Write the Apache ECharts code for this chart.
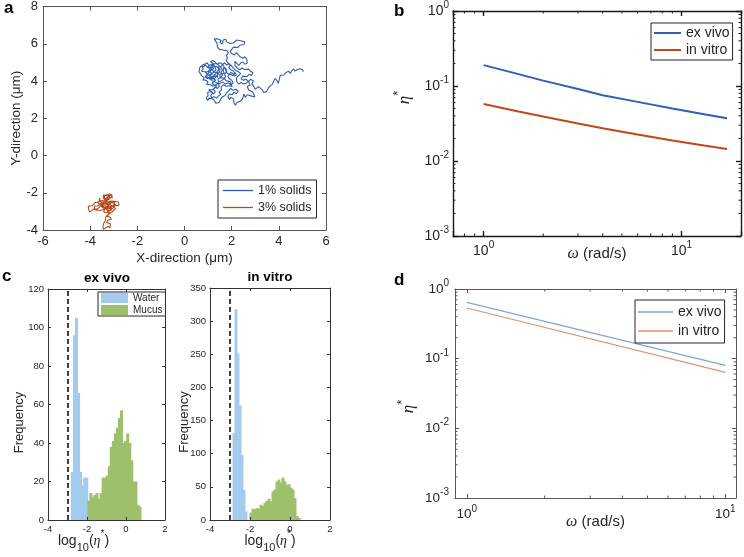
<!DOCTYPE html>
<html><head><meta charset="utf-8">
<script src="https://cdn.jsdelivr.net/npm/echarts@6/dist/echarts.min.js"></script>
<style>html,body{margin:0;padding:0;background:#fff}#c{width:744px;height:557px}</style>
</head><body><div id="c"></div><script>
// ---------- DATA ----------
// Panel a: particle trajectories (µm)
const traj1pct = [[5.04,4.5],[5.0,4.62],[4.97,4.71],[4.9,4.66],[4.85,4.74],[4.78,4.62],[4.69,4.53],[4.62,4.66],[4.55,4.58],[4.48,4.41],[4.42,4.52],[4.34,4.59],[4.3,4.45],[4.24,4.5],[4.2,4.32],[4.12,4.22],[4.06,4.3],[3.98,3.87],[3.93,4.0],[3.84,4.14],[3.78,3.98],[3.72,3.82],[3.66,3.9],[3.6,3.7],[3.54,3.58],[3.48,3.43],[3.42,3.5],[3.36,3.38],[3.3,3.52],[3.22,3.62],[3.14,3.7],[3.06,3.62],[3.0,3.56],
[2.94,3.7],[2.86,3.84],[2.92,4.0],[2.8,4.1],[2.72,3.96],[2.78,3.78],[2.66,3.7],[2.72,3.52],[2.86,3.44],[2.94,3.3],[2.98,3.14],[2.9,3.06],[2.82,3.2],[2.74,3.1],[2.66,3.26],[2.58,3.12],[2.52,3.3],[2.44,3.2],[2.46,3.04],[2.38,2.92],[2.3,3.0],[2.22,2.84],[2.16,2.7],[2.1,2.82],[2.02,2.9],[2.08,3.04],[1.98,3.12],[1.9,3.0],[1.84,3.16],[1.9,3.3],[2.02,3.26],[2.1,3.4],[2.2,3.32],[2.28,3.46],[2.18,3.56],[2.06,3.5],[1.96,3.6],[1.88,3.48],[1.78,3.36],[1.72,3.22],[1.64,3.3],[1.6,3.14],[1.52,3.0],[1.48,2.86],[1.4,2.94],[1.34,2.8],[1.28,2.92],[1.2,3.04],[1.12,2.96],[1.04,3.08],[0.98,2.96],[0.92,3.1],[1.0,3.22],[1.08,3.3],[0.98,3.4],[1.06,3.5],[1.16,3.42],[1.24,3.3],[1.3,3.44],[1.22,3.56],[1.3,3.68],[1.4,3.6],[1.48,3.72],[1.42,3.86],[1.32,3.8],[1.2,3.72],[1.1,3.8],[1.02,3.7],[0.94,3.82],[1.0,3.96],[0.9,4.04],[0.84,3.94],[0.78,4.06],[0.84,4.18],[0.74,4.26],[0.66,4.36],[0.62,4.5],[0.7,4.56],[0.64,4.7],[0.72,4.82],[0.82,4.76],[0.86,4.9],[0.96,4.98],[1.02,4.86],[0.94,4.76],[1.04,4.66],[1.12,4.76],[1.2,4.88],[1.28,4.78],[1.22,4.66],[1.14,4.56],[1.04,4.5],[0.96,4.6],[0.88,4.5],[0.94,4.38],[1.04,4.3],[1.12,4.4],[1.22,4.46],[1.3,4.56],[1.38,4.48],[1.3,4.36],[1.2,4.26],[1.1,4.18],[1.18,4.08],[1.28,4.14],[1.36,4.26],[1.44,4.36],[1.5,4.5],[1.44,4.62],[1.36,4.7],[1.46,4.8],[1.56,4.72],[1.6,4.58],[1.54,4.44],[1.62,4.32],[1.52,4.2],[1.42,4.1],[1.34,4.0],[1.44,3.94],[1.56,4.02],[1.66,4.1],[1.74,4.22],[1.7,4.36],[1.78,4.5],[1.72,4.64],[1.66,4.8],[1.58,4.92],[1.48,4.98],[1.38,4.9],[1.3,5.02],[1.2,5.1],[1.1,5.04],[1.16,4.96],[1.24,4.9],[1.34,4.6],[1.24,4.5],[1.16,4.64],[1.08,4.52],[1.0,4.42],[0.92,4.26],[1.02,4.16],[1.12,4.06],[1.24,3.98],[1.36,3.9],[1.5,3.86],[1.62,3.94],[1.74,3.84],[1.86,3.9],[1.96,3.8],[2.06,3.9],[2.0,4.04],[1.9,4.12],[1.84,4.26],[1.94,4.38],[2.04,4.3],[2.14,4.4],[2.08,4.54],[1.96,4.6],[1.88,4.72],[1.94,4.86],[1.84,4.98],[1.76,5.1],[1.82,5.24],[1.78,5.38],[1.86,5.5],[1.8,5.64],[1.72,5.74],[1.64,5.66],[1.56,5.76],[1.48,5.7],[1.4,5.82],[1.32,5.9],[1.38,6.02],[1.3,6.12],[1.26,6.26],[1.34,6.36],[1.42,6.26],[1.5,6.3],[1.56,6.18],[1.5,6.06],[1.6,5.98],[1.68,6.08],[1.64,6.2],[1.74,6.24],[1.8,6.1],[1.9,6.02],[1.98,6.12],[2.06,6.04],[2.14,6.14],[2.22,6.2],[2.3,6.1],[2.38,6.16],[2.46,6.08],[2.56,6.1],[2.62,6.04],[2.52,5.96],[2.44,5.86],[2.34,5.92],[2.26,5.8],[2.18,5.9],[2.08,5.82],[2.0,5.7],[1.94,5.58],[2.02,5.46],[2.12,5.4],[2.2,5.52],[2.28,5.42],[2.36,5.3],[2.46,5.22],[2.56,5.3],[2.64,5.18],[2.72,5.08],[2.66,4.96],[2.56,4.9],[2.48,5.02],[2.38,4.96],[2.3,4.84],[2.22,4.94],[2.14,5.06],[2.06,4.96],[2.14,4.82],[2.24,4.7],[2.34,4.6],[2.44,4.7],[2.54,4.62],[2.62,4.72],[2.72,4.64],[2.8,4.52],[2.9,4.44],[2.84,4.3],[2.74,4.36],[2.64,4.24],[2.56,4.34],[2.46,4.26],[2.4,4.12],[2.5,4.04],[2.6,4.1],[2.7,4.0],[2.62,3.88],[2.5,3.84],[2.4,3.92],[2.3,3.84],[2.22,3.96],[2.3,4.06],[2.2,4.16],[2.28,4.28],[2.38,4.4],[2.28,4.5],[2.16,4.58],[2.06,4.7],
[1.98,4.82],[1.88,4.94],[1.78,4.86],[1.7,4.98],[1.6,4.86],[1.52,4.74],[1.44,4.86],[1.34,4.94],[1.26,4.84],[1.16,4.9],[1.06,4.84],[0.98,4.72],[0.9,4.84],[0.8,4.9],[0.74,4.78],[0.8,4.66],[0.72,4.52],[0.8,4.42],[0.9,4.48],[0.98,4.36],[0.88,4.24],[0.96,4.12],[1.06,4.22],[1.14,4.32],[1.2,4.2],[1.3,4.28],[1.4,4.2],[1.48,4.3],[1.4,4.42],[1.32,4.5],[1.42,4.58],[1.52,4.62],[1.46,4.72],[1.36,4.78],[1.28,4.68],[1.18,4.74],[1.1,4.64],[1.02,4.56],[1.1,4.48],[1.18,4.38],[1.08,4.28],[1.0,4.2],[1.1,4.1],[1.22,4.12],[1.32,4.04],[1.26,3.94],[1.16,3.88],[1.26,3.8],[1.36,3.74],[1.28,3.62],[1.18,3.52],[1.1,3.62],[1.02,3.54],[1.1,3.44],[1.2,3.36],[1.12,3.24],[1.04,3.16],[1.14,3.1],[1.26,3.16],[1.36,3.08],[1.44,3.2],[1.54,3.28],[1.46,3.4],[1.56,3.5],[1.64,3.6],[1.56,3.7],[1.66,3.8],[1.76,3.72],[1.84,3.62],[1.92,3.74],[2.02,3.7],[1.94,3.96],[1.86,4.06],[1.76,4.02],[1.68,4.16],[1.6,4.06],[1.52,4.16],[1.6,4.24],[1.5,4.36],[1.58,4.46],[1.68,4.42],[1.64,4.56],[1.56,4.64],[1.66,4.72],[1.76,4.66],[1.84,4.56],[1.8,4.44],[1.9,4.34],[1.96,4.46],[2.06,4.4],[2.1,4.26],[2.2,4.32],[2.14,4.46]];
const traj3pct = [[-3.3,-2.5],[-3.22,-2.4],[-3.28,-2.3],[-3.2,-2.2],[-3.12,-2.28],[-3.06,-2.16],[-3.14,-2.08],[-3.24,-2.14],[-3.32,-2.22],[-3.4,-2.16],[-3.46,-2.26],[-3.38,-2.36],[-3.44,-2.46],[-3.36,-2.56],[-3.26,-2.6],[-3.18,-2.52],[-3.1,-2.44],[-3.02,-2.36],[-2.96,-2.46],[-2.88,-2.42],[-2.8,-2.5],[-2.86,-2.6],[-2.78,-2.68],[-2.86,-2.76],[-2.96,-2.7],[-3.04,-2.62],[-3.12,-2.7],[-3.06,-2.8],[-3.14,-2.88],[-3.24,-2.8],[-3.32,-2.7],[-3.42,-2.64],[-3.5,-2.54],[-3.58,-2.44],[-3.52,-2.34],[-3.6,-2.28],[-3.66,-2.38],[-3.62,-2.5],[-3.7,-2.58],[-3.78,-2.52],[-3.84,-2.62],[-3.92,-2.7],[-4.0,-2.64],[-4.08,-2.72],[-4.14,-2.82],[-4.06,-2.9],[-4.12,-2.98],[-4.02,-3.04],[-3.94,-2.96],[-3.86,-2.88],[-3.78,-2.96],[-3.7,-2.88],[-3.62,-2.8],[-3.56,-2.7],[-3.48,-2.78],[-3.4,-2.86],[-3.34,-2.96],[-3.42,-3.04],[-3.36,-3.14],[-3.28,-3.06],[-3.2,-2.98],[-3.14,-3.08],[-3.22,-3.18],[-3.3,-3.26],[-3.24,-3.36],[-3.16,-3.3],[-3.1,-3.42],[-3.18,-3.52],[-3.26,-3.48],[-3.3,-3.6],[-3.22,-3.7],[-3.14,-3.66],[-3.08,-3.76],[-3.16,-3.86],[-3.26,-3.82],[-3.34,-3.92],[-3.44,-3.96],[-3.52,-3.9],[-3.46,-3.8],[-3.38,-3.74],[-3.42,-3.62],[-3.36,-3.5],[-3.42,-3.4],[-3.34,-3.3],[-3.26,-3.2],[-3.18,-3.1],[-3.06,-3.02],[-2.98,-2.94],[-2.92,-2.84],[-3.0,-2.78],[-3.08,-2.7],[-3.18,-2.64],[-3.26,-2.72],[-3.36,-2.8],[-3.44,-2.7],[-3.52,-2.62],[-3.46,-2.52],[-3.38,-2.44],[-3.3,-2.36],[-3.22,-2.28],[-3.14,-2.36],[-3.06,-2.26],[-3.0,-2.2],[-3.08,-2.12],[-3.18,-2.06],[-3.28,-2.12],[-3.36,-2.06],[-3.44,-2.12],[-3.52,-2.2],[-3.44,-2.3],[-3.36,-2.4],[-3.28,-2.48],[-3.2,-2.56],[-3.12,-2.62],[-3.2,-2.7],[-3.3,-2.64],[-3.4,-2.56],[-3.5,-2.5],[-3.58,-2.6],[-3.66,-2.7],[-3.74,-2.78],[-3.82,-2.72],[-3.9,-2.8],[-3.82,-2.88],[-3.72,-2.94],[-3.64,-3.02],[-3.56,-2.94],[-3.5,-2.86],[-3.4,-2.9],[-3.3,-2.84],[-3.22,-2.9],[-3.14,-2.8],[-3.06,-2.72],[-2.98,-2.64],[-2.9,-2.56],[-2.96,-2.5],[-3.04,-2.54],[-3.12,-2.48],[-3.2,-2.42],[-3.28,-2.5],
[-3.36,-2.6],[-3.46,-2.6],[-3.54,-2.7],[-3.46,-2.8],[-3.38,-2.74],[-3.3,-2.8],[-3.24,-2.68],[-3.16,-2.58],[-3.08,-2.5],[-3.0,-2.56],[-2.92,-2.64],[-2.98,-2.74],[-3.06,-2.86],[-3.16,-2.94],[-3.26,-2.96],[-3.34,-2.86],[-3.42,-2.76],[-3.5,-2.68],[-3.6,-2.62],[-3.68,-2.5],[-3.6,-2.4],[-3.5,-2.42],[-3.42,-2.52],[-3.34,-2.46],[-3.26,-2.38],[-3.18,-2.32],[-3.1,-2.22],[-3.18,-2.16],[-3.26,-2.24],[-3.34,-2.3],[-3.4,-2.4],[-3.32,-2.54],[-3.24,-2.66],[-3.16,-2.76],[-3.24,-2.86],[-3.32,-2.92],[-3.26,-3.02],[-3.18,-3.0],[-3.1,-2.92],[-3.02,-2.86],[-3.1,-2.78],[-3.2,-2.74],[-3.28,-2.62],[-3.2,-2.5],[-3.12,-2.56],[-3.04,-2.46],[-3.12,-2.38],[-3.22,-2.46]];

// Panel b: complex viscosity vs angular frequency
const omegaB = [1, 1.5, 2, 3, 4, 6, 9, 13, 17];
const exVivoB = [0.190, 0.144, 0.118, 0.091, 0.0752, 0.0614, 0.0501, 0.0421, 0.0371];
const inVitroB = [0.0575, 0.0457, 0.0391, 0.0316, 0.0274, 0.0226, 0.0188, 0.0161, 0.01445];

// Panel c: histograms of log10(eta*)
const exBinWidth = 0.105;
const exWaterStart = -2.8;
const exWaterCounts = [25, 96, 105, 66, 25, 18, 22, 22];
const exMucusStart = -1.96;
const exMucusCounts = [10,14,12,13,14,11,14,22,22,23,28,38,41,45,48,53,57,40,41,45,40,31,20,20,8,7];
const inBinWidth = 0.1;
const inWaterStart = -2.85;
const inWaterCounts = [131, 318, 251, 173, 98, 45, 13];
const inMucusStart = -2.0;
const inMucusCounts = [11,17,16,18,17,23,21,26,29,32,28,43,46,58,61,56,64,58,53,54,49,46,33,6,3];
const waterThreshold = -3;

// Panel d
const omegaD = [1, 10];
const exVivoD = [0.644, 0.080];
const inVitroD = [0.533, 0.0635];

// ---------- STYLE ----------
const FONT = '"Liberation Sans", Arial, sans-serif';
const SERIF = '"Liberation Serif", "DejaVu Serif", serif';
const TXT = '#262626';
const BLUE_A = '#2d5eb2', ORANGE_A = '#b94a1c';
const BLUE_B = '#2f5fb6', ORANGE_B = '#c2481c';
const BLUE_D = '#7ea5dc', ORANGE_D = '#e2936d';
const WATER = '#a3cbee', MUCUS = '#9ec06c';

function pow10(v){
  const l = Math.log10(v), e = Math.round(l);
  if (Math.abs(l - e) > 1e-6) return '';
  return '{b|10}{s|' + (e < 0 ? '-' + (-e) : e) + '}';
}
function powRich(fs){
  return { b:{fontSize:fs, fontFamily:FONT, color:TXT, lineHeight:fs+8},
           s:{fontSize:Math.round(fs*0.72), fontFamily:FONT, color:TXT, verticalAlign:'top'} };
}
function etaName(fs){
  return { e:{fontSize:fs+2, fontFamily:SERIF, fontStyle:'italic', color:TXT, lineHeight:fs+10},
           s:{fontSize:Math.round(fs*0.85), fontFamily:FONT, color:TXT, verticalAlign:'top'} };
}
function omegaRich(fs){
  return { w:{fontSize:fs+1, fontFamily:SERIF, fontStyle:'italic', color:TXT},
           t:{fontSize:fs, fontFamily:FONT, color:TXT} };
}
function logRich(fs){
  return { t:{fontSize:fs, fontFamily:FONT, color:TXT, lineHeight:fs+10},
           d:{fontSize:Math.round(fs*0.75), fontFamily:FONT, color:TXT, verticalAlign:'bottom'},
           e:{fontSize:fs, fontFamily:SERIF, fontStyle:'italic', color:TXT},
           s:{fontSize:Math.round(fs*0.7), fontFamily:FONT, color:TXT, verticalAlign:'top'} };
}

function ax(gridIndex, pos, type, range, o){
  const main = (pos === 'bottom' || pos === 'left');
  const a = {
    type, gridIndex, position:pos, min:range[0], max:range[1], z:10,
    axisLine:{show:true, onZero:false, lineStyle:{color:o.color, width:o.lw}},
    axisTick:{show:true, inside:true, length:o.tick, lineStyle:{color:o.color, width:o.lw}},
    splitLine:{show:false}, minorTick:{show:false}, minorSplitLine:{show:false},
    axisLabel:Object.assign({show:main}, o.label || {}),
    axisPointer:{show:false}
  };
  if (o.interval) a.interval = o.interval;
  if (type === 'log') a.logBase = 10;
  if (main && o.name) Object.assign(a, {name:o.name, nameLocation:'middle', nameGap:o.nameGap, nameMoveOverlap:false, nameTextStyle:o.nameStyle});
  return a;
}

// minor ticks for the log panels, placed through the axis scales
function minorTicks(xi, yi, xMinor, yMinor, xr, yr, len, color, lw){
  const data = [];
  xMinor.forEach(v => data.push([v, yr[0], 0]));
  yMinor.forEach(v => data.push([xr[0], v, 1]));
  return {
    type:'custom', name:'_minor'+xi, xAxisIndex:xi, yAxisIndex:yi, silent:true, z:11, data,
    renderItem(params, api){
      const cs = params.coordSys;
      const st = {stroke:color, lineWidth:lw};
      if (api.value(2) === 0){
        const p = api.coord([api.value(0), yr[0]]);
        return {type:'group', children:[
          {type:'line', shape:{x1:p[0], y1:cs.y+cs.height, x2:p[0], y2:cs.y+cs.height-len}, style:st},
          {type:'line', shape:{x1:p[0], y1:cs.y, x2:p[0], y2:cs.y+len}, style:st}]};
      }
      const p = api.coord([xr[0], api.value(1)]);
      return {type:'group', children:[
        {type:'line', shape:{x1:cs.x, y1:p[1], x2:cs.x+len, y2:p[1]}, style:st},
        {type:'line', shape:{x1:cs.x+cs.width, y1:p[1], x2:cs.x+cs.width-len, y2:p[1]}, style:st}]};
    }
  };
}

function hist(name, start, width, counts, xi, yi, color, withLine){
  const data = counts.map((c, i) => [start + i*width, start + (i+1)*width, c]);
  const s = {
    type:'custom', name, xAxisIndex:xi, yAxisIndex:yi, itemStyle:{color}, encode:{x:[0,1], y:2}, data, z:2,
    renderItem(params, api){
      const p0 = api.coord([api.value(0), api.value(2)]);
      const p1 = api.coord([api.value(1), 0]);
      return {type:'rect', shape:{x:p0[0]-0.5, y:p0[1], width:p1[0]-p0[0]+1, height:p1[1]-p0[1]}, style:{fill:color}};
    }
  };
  if (withLine) s.markLine = {silent:true, symbol:'none', label:{show:false},
    lineStyle:{color:'#111', type:[5,3], width:1.6}, data:[{xAxis:waterThreshold}]};
  return s;
}

const minorDec = [2,3,4,5,6,7,8,9];
const yMinorLog = [].concat(minorDec.map(v=>v*0.001), minorDec.map(v=>v*0.01), minorDec.map(v=>v*0.1));

const stA = {color:'#555', lw:1, tick:4, interval:2, label:{fontSize:13, fontFamily:FONT, color:TXT, margin:5}};
const stB = {color:'#1a1a1a', lw:1.4, tick:5, label:{fontSize:14, color:TXT, margin:4, formatter:pow10, rich:powRich(14)}};
const stC = {color:'#333', lw:1, tick:3, label:{fontSize:9.5, fontFamily:FONT, color:TXT, margin:4}};
const stD = {color:'#555', lw:1, tick:4, label:{fontSize:13.5, color:TXT, margin:6, formatter:pow10, rich:powRich(13.5)}};

const xAxis = [
  ax(0,'bottom','value',[-6,6], Object.assign({}, stA, {name:'X-direction (μm)', nameGap:21, nameStyle:{fontSize:13.5, fontFamily:FONT, color:TXT}})),
  ax(0,'top','value',[-6,6], stA),
  ax(1,'bottom','log',[0.7,20], Object.assign({}, stB, {name:'{w|ω}{t| (rad/s)}', nameGap:10, nameStyle:{rich:omegaRich(15)}})),
  ax(1,'top','log',[0.7,20], stB),
  ax(2,'bottom','value',[-4,2], Object.assign({}, stC, {interval:2, name:'{t|log}{d|10}{t|(}{e|η}{s|*}{t|)}', nameGap:9, nameStyle:{rich:logRich(14), padding:[0,46,0,0]}})),
  ax(2,'top','value',[-4,2], Object.assign({}, stC, {interval:2})),
  ax(3,'bottom','value',[-4,2], Object.assign({}, stC, {interval:2, name:'{t|log}{d|10}{t|(}{e|η}{s|*}{t|)}', nameGap:9, nameStyle:{rich:logRich(14)}})),
  ax(3,'top','value',[-4,2], Object.assign({}, stC, {interval:2})),
  ax(4,'bottom','log',[0.9,11], Object.assign({}, stD, {name:'{w|ω}{t| (rad/s)}', nameGap:16, nameStyle:{rich:omegaRich(15)}})),
  ax(4,'top','log',[0.9,11], stD)
];
const yAxis = [
  ax(0,'left','value',[-4,8], Object.assign({}, stA, {name:'Y-direction (μm)', nameGap:20, nameStyle:{fontSize:13.5, fontFamily:FONT, color:TXT}})),
  ax(0,'right','value',[-4,8], stA),
  ax(1,'left','log',[0.001,1], Object.assign({}, stB, {name:'{e|η}{s|*}', nameGap:36, nameStyle:{rich:etaName(15), padding:[0,0,0,52]}})),
  ax(1,'right','log',[0.001,1], stB),
  ax(2,'left','value',[0,120], Object.assign({}, stC, {interval:20, name:'Frequency', nameGap:22, nameStyle:{fontSize:13, fontFamily:FONT, color:TXT, padding:[0,36,0,0]}})),
  ax(2,'right','value',[0,120], Object.assign({}, stC, {interval:20})),
  ax(3,'left','value',[0,350], Object.assign({}, stC, {interval:50, name:'Frequency', nameGap:19, nameStyle:{fontSize:13, fontFamily:FONT, color:TXT, padding:[0,36,0,0]}})),
  ax(3,'right','value',[0,350], Object.assign({}, stC, {interval:50})),
  ax(4,'left','log',[0.001,1], Object.assign({}, stD, {name:'{e|η}{s|*}', nameGap:34, nameStyle:{rich:etaName(15), padding:[0,26,0,0]}})),
  ax(4,'right','log',[0.001,1], stD)
];

const legendBase = {orient:'vertical', backgroundColor:'#fff', borderColor:'#262626', borderWidth:1, borderRadius:0,
  selectedMode:false, formatter:n => n.trim()};

const option = {
  animation:false,
  backgroundColor:'#fff',
  grid:[
    {left:43, top:6, width:283, height:224},
    {left:453, top:11, width:288, height:225},
    {left:48, top:289, width:117, height:231},
    {left:210, top:288, width:120, height:232},
    {left:455, top:289, width:281, height:209}
  ],
  xAxis, yAxis,
  legend:[
    Object.assign({}, legendBase, {data:['1% solids','3% solids'], left:218, top:180, icon:'rect', padding:[4,5,4,5], itemGap:4, itemWidth:30, itemHeight:1.3, itemTextGap:3,
      textStyle:{fontSize:12.5, fontFamily:FONT, color:TXT}}),
    Object.assign({}, legendBase, {data:['ex vivo','in vitro'], left:651, top:23, icon:'rect', padding:[3,3,3,3], itemGap:3, itemWidth:27, itemHeight:2, itemTextGap:2,
      textStyle:{fontSize:14, fontFamily:FONT, color:TXT}}),
    Object.assign({}, legendBase, {data:['Water','Mucus'], left:98, top:292, icon:'rect', padding:[1,3,1,3], itemGap:2, itemWidth:27, itemHeight:10, itemTextGap:2,
      textStyle:{fontSize:10, fontFamily:FONT, color:TXT}}),
    Object.assign({}, legendBase, {data:['ex vivo ','in vitro '], left:635, top:300, icon:'rect', padding:[5,3,5,3], itemGap:5, itemWidth:35, itemHeight:1.3, itemTextGap:2,
      textStyle:{fontSize:14, fontFamily:FONT, color:TXT}})
  ],
  graphic:[
    {type:'text', x:4, y:0, style:{text:'a', font:'bold 17px '+FONT, fill:'#000'}},
    {type:'text', x:394, y:3, style:{text:'b', font:'bold 17px '+FONT, fill:'#000'}},
    {type:'text', x:2, y:268, style:{text:'c', font:'bold 17px '+FONT, fill:'#000'}},
    {type:'text', x:394, y:272, style:{text:'d', font:'bold 17px '+FONT, fill:'#000'}},
    {type:'text', x:107, y:271, style:{text:'ex vivo', font:'bold 13.5px '+FONT, fill:'#000', textAlign:'center'}},
    {type:'text', x:270, y:270, style:{text:'in vitro', font:'bold 13.5px '+FONT, fill:'#000', textAlign:'center'}}
  ],
  series:[
    {type:'line', name:'1% solids', xAxisIndex:0, yAxisIndex:0, data:traj1pct, symbol:'none', lineStyle:{color:BLUE_A, width:1.1}, itemStyle:{color:BLUE_A}},
    {type:'line', name:'3% solids', xAxisIndex:0, yAxisIndex:0, data:traj3pct, symbol:'none', lineStyle:{color:ORANGE_A, width:1.1}, itemStyle:{color:ORANGE_A}},
    {type:'line', name:'ex vivo', xAxisIndex:2, yAxisIndex:2, data:omegaB.map((w,i)=>[w, exVivoB[i]]), symbol:'none', lineStyle:{color:BLUE_B, width:2}, itemStyle:{color:BLUE_B}},
    {type:'line', name:'in vitro', xAxisIndex:2, yAxisIndex:2, data:omegaB.map((w,i)=>[w, inVitroB[i]]), symbol:'none', lineStyle:{color:ORANGE_B, width:2}, itemStyle:{color:ORANGE_B}},
    minorTicks(2, 2, [0.8,0.9].concat(minorDec), yMinorLog, [0.7,20], [0.001,1], 2.5, '#1a1a1a', 1),
    hist('Water', exWaterStart, exBinWidth, exWaterCounts, 4, 4, WATER, true),
    hist('Mucus', exMucusStart, exBinWidth, exMucusCounts, 4, 4, MUCUS, false),
    hist('Water', inWaterStart, inBinWidth, inWaterCounts, 6, 6, WATER, true),
    hist('Mucus', inMucusStart, inBinWidth, inMucusCounts, 6, 6, MUCUS, false),
    {type:'line', name:'ex vivo ', xAxisIndex:8, yAxisIndex:8, data:omegaD.map((w,i)=>[w, exVivoD[i]]), symbol:'none', lineStyle:{color:BLUE_D, width:1.2}, itemStyle:{color:BLUE_D}},
    {type:'line', name:'in vitro ', xAxisIndex:8, yAxisIndex:8, data:omegaD.map((w,i)=>[w, inVitroD[i]]), symbol:'none', lineStyle:{color:ORANGE_D, width:1.2}, itemStyle:{color:ORANGE_D}},
    minorTicks(8, 8, minorDec, yMinorLog, [0.9,11], [0.001,1], 2.5, '#555', 1)
  ]
};
const chart = echarts.init(document.getElementById('c'));
chart.setOption(option);
</script></body></html>
